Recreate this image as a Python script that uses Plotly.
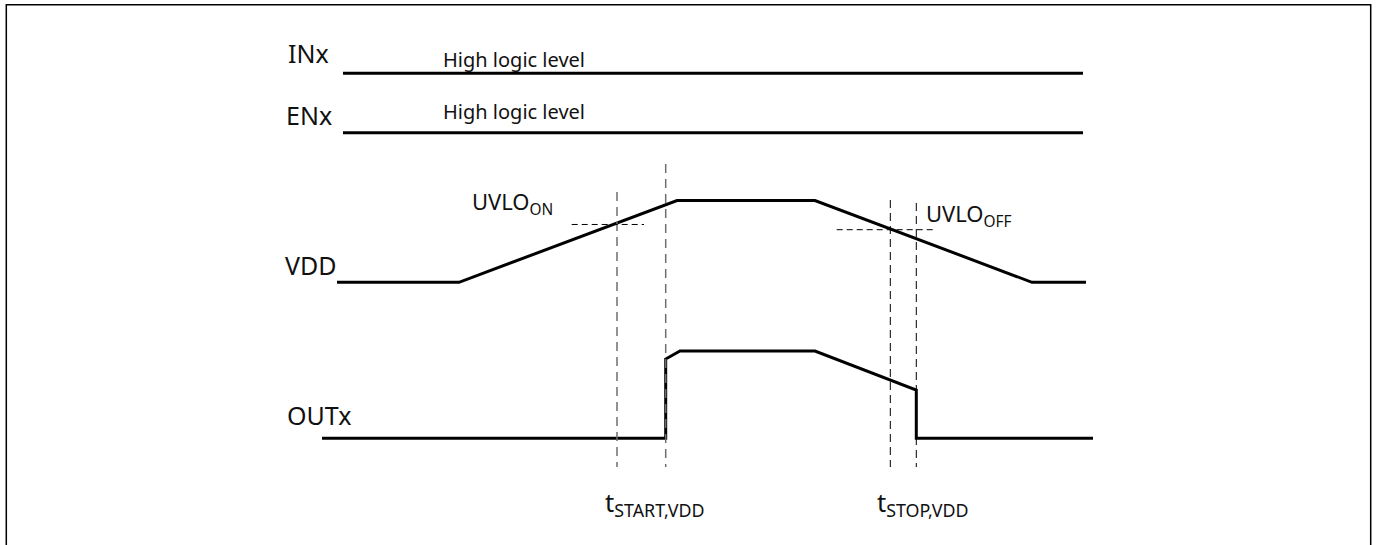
import plotly.graph_objects as go

# ---- Data (time axis in arbitrary units, levels normalised 0..1) ----
IN_T = [343, 1083]
IN_LEVEL = [1, 1]
EN_T = [343, 1083]
EN_LEVEL = [1, 1]
VDD_T = [337, 459, 677, 815, 1032, 1086]
VDD_LEVEL = [0, 0, 1, 1, 0, 0]
OUT_T = [322, 665.7, 665.7, 680, 815, 916.3, 916.3, 1093]
OUT_LEVEL = [0, 0, 0.908, 1, 1, 0.552, 0, 0]

T_UVLO_ON = 617
T_START = 665.7
T_UVLO_OFF = 890.3
T_STOP = 916.3
UVLO_ON_LEVEL = 0.707
UVLO_OFF_LEVEL = 0.643

SIGNAL_NAMES = ["INx", "ENx", "VDD", "OUTx"]
STATE_TEXT = "High logic level"

# ---- Row geometry (level 0 / level 1 vertical positions) ----
ROWS = {
    "INx": (113.3, 73.3),
    "ENx": (172.7, 132.7),
    "VDD": (282.3, 200.5),
    "OUTx": (438.3, 351.0),
}


def to_y(row, levels):
    lo, hi = ROWS[row]
    return [lo + (hi - lo) * v for v in levels]


W, H = 1378, 545
fig = go.Figure()

wave = dict(color="black", width=3)
for name, t, lv in [("INx", IN_T, IN_LEVEL), ("ENx", EN_T, EN_LEVEL),
                    ("VDD", VDD_T, VDD_LEVEL), ("OUTx", OUT_T, OUT_LEVEL)]:
    fig.add_trace(go.Scatter(x=t, y=to_y(name, lv), mode="lines", line=wave,
                             hoverinfo="skip", showlegend=False))

# vertical dashed markers
BOTTOM = 467
markers = [
    (T_UVLO_ON, 192, dict(color="#6e6e6e", width=1.5, dash="9px,6px")),
    (T_START, 164, dict(color="#6e6e6e", width=1.5, dash="9px,6px")),
    (T_UVLO_OFF, 200, dict(color="black", width=1, dash="8px,5px")),
    (T_STOP, 203, dict(color="black", width=1, dash="8px,5px")),
]
for t, top, ln in markers:
    fig.add_trace(go.Scatter(x=[t, t], y=[top, BOTTOM], mode="lines", line=ln,
                             hoverinfo="skip", showlegend=False))

# threshold dashed lines
for (x0, x1), lvl in [((571.7, 644), UVLO_ON_LEVEL), ((836.7, 933.3), UVLO_OFF_LEVEL)]:
    yv = to_y("VDD", [lvl])[0]
    fig.add_trace(go.Scatter(x=[x0, x1], y=[yv, yv], mode="lines",
                             line=dict(color="black", width=1, dash="6px,4px"),
                             hoverinfo="skip", showlegend=False))

FONT = "Noto Sans"
ann = []


def label(x, y, text, size, xanchor="left"):
    ann.append(dict(x=x, y=y, xref="x", yref="y", text=text, showarrow=False,
                    xanchor=xanchor, yanchor="middle",
                    font=dict(family=FONT, size=size, color="#111111")))


label(286, 52.6, SIGNAL_NAMES[0], 25)
label(284, 115.3, SIGNAL_NAMES[1], 25)
label(339, 265.3, SIGNAL_NAMES[2], 25, xanchor="right")
label(285, 415.3, SIGNAL_NAMES[3], 25)
label(441, 59.0, STATE_TEXT, 20)
label(441, 111.5, STATE_TEXT, 20)
label(470, 203, "UVLO<sub>ON</sub>", 22)
label(924, 215, "UVLO<sub>OFF</sub>", 22)
label(603, 503, "t<sub>START,VDD</sub>", 25.5)
label(875, 503, "t<sub>STOP,VDD</sub>", 25.5)

fig.update_layout(
    width=W, height=H,
    margin=dict(l=0, r=0, t=0, b=0),
    paper_bgcolor="white", plot_bgcolor="white",
    xaxis=dict(range=[0, W], visible=False, fixedrange=True),
    yaxis=dict(range=[H, 0], visible=False, fixedrange=True),
    annotations=ann,
    shapes=[dict(type="rect", xref="paper", yref="paper",
                 x0=6.3 / W, x1=1370.7 / W, y0=-0.05, y1=1 - 4.7 / H,
                 line=dict(color="black", width=1.5), fillcolor="rgba(0,0,0,0)")],
    showlegend=False,
)

fig.write_html("out.html",
               config={"displayModeBar": False, "displaylogo": False},
               post_script="document.body.style.margin='0';"
                           "document.body.style.overflow='hidden';")
